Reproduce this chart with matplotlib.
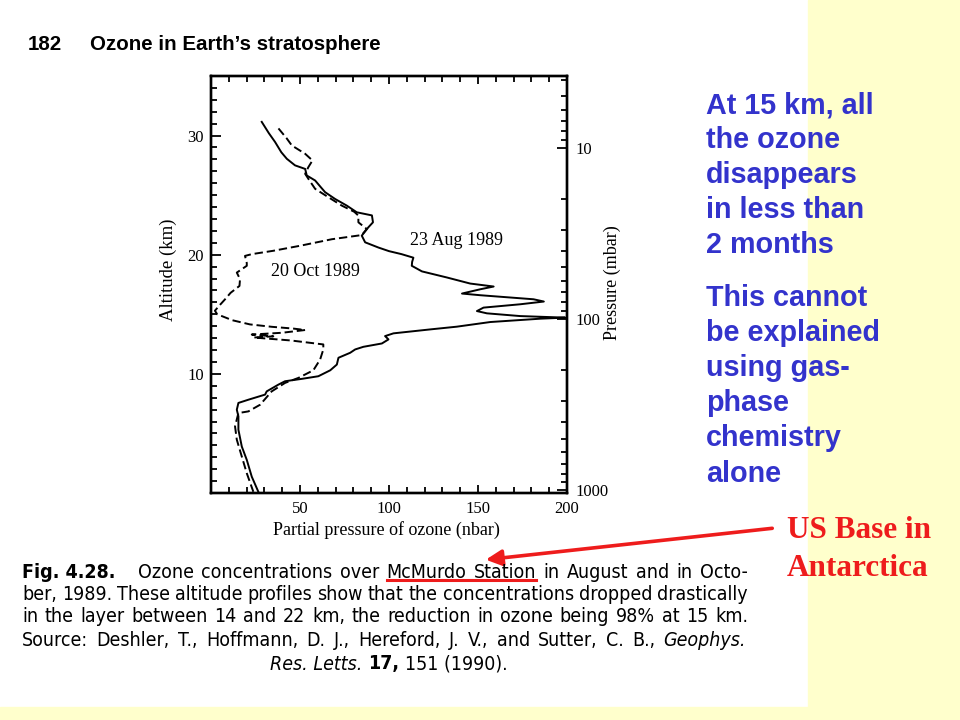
import matplotlib
matplotlib.use('Agg')
import matplotlib.pyplot as plt
import matplotlib.ticker as mticker
from matplotlib.patches import Rectangle, FancyArrowPatch
from matplotlib.lines import Line2D

# ozone profiles (altitude km, partial pressure nbar)
aug_alt = [31.15, 30.2, 29.46, 28.6, 28.05, 27.5, 27.2, 26.65, 26.23, 25.7, 25.25, 24.68,
           24.12, 23.56, 23.3, 22.72, 22.3, 21.6, 21.04, 20.6, 20.3, 20.05, 19.75, 19.4,
           19.07, 18.6, 18.09, 17.58, 17.33, 17.1, 16.74, 16.6, 16.26, 16.07, 15.84, 15.56,
           15.27, 15.08, 14.85, 14.72, 14.63, 14.35, 13.96, 13.73, 13.4, 13.17, 12.89, 12.55,
           12.27, 12.05, 11.77, 11.35, 10.78, 10.3, 9.8, 9.58, 9.38, 9.1, 8.53, 8.26,
           7.83, 7.56, 6.99, 6.43, 5.31, 3.9, 2.78, 1.37, 0.1]
aug_o3 = [28.5, 32.5, 36.0, 39.5, 42.6, 47.2, 52.9, 53.8, 58.5, 61.5, 64.1, 69.7,
          76.3, 81.9, 90.4, 91.0, 88.4, 84.7, 86.6, 94.1, 100.0, 107.0, 113.7, 113.0,
          112.8, 118.5, 132.5, 145.6, 158.8, 151.3, 141.0, 151.3, 181.2, 187.0, 173.7, 153.1,
          149.4, 155.0, 173.7, 199.0, 185.0, 156.9, 138.1, 123.1, 102.5, 97.8, 99.7, 96.0,
          85.6, 81.0, 78.2, 71.6, 70.7, 67.0, 60.3, 51.0, 41.6, 37.9, 31.3, 30.4,
          21.0, 15.4, 14.5, 15.4, 15.4, 17.3, 20.1, 22.9, 26.6]

oct_alt = [30.6, 29.75, 29.17, 28.47, 27.91, 27.35, 26.79, 26.3, 25.53, 24.82, 24.12, 23.6,
           23.28, 22.72, 22.16, 21.65, 21.3, 20.75, 20.33, 20.05, 19.9, 19.3, 19.07, 18.5,
           17.95, 17.38, 16.8, 16.26, 15.7, 15.3, 15.0, 14.5, 14.15, 13.95, 13.8, 13.68,
           13.45, 13.3, 13.15, 13.05, 12.8, 12.47, 12.05, 11.2, 10.3, 9.66, 9.24, 8.53,
           7.41, 6.85, 6.71, 5.59, 4.47, 3.06, 1.66, 0.1]
oct_o3 = [37.9, 42.6, 45.4, 52.9, 57.0, 54.7, 52.9, 55.0, 58.5, 66.0, 73.5, 80.5,
          82.8, 82.8, 87.5, 84.7, 67.9, 50.0, 35.0, 23.0, 19.1, 20.1, 20.1, 14.5,
          16.3, 16.0, 11.0, 7.9, 4.5, 2.2, 3.5, 12.0, 21.9, 34.1, 46.3, 52.9,
          40.0, 22.9, 35.0, 24.0, 45.0, 63.1, 63.1, 61.3, 57.5, 49.1, 41.6, 34.1,
          27.6, 21.0, 15.4, 13.5, 14.5, 17.3, 20.1, 23.8]

x_ticks = [50, 100, 150, 200]
alt_ticks = [10, 20, 30]
p_ticks = [10, 100, 1000]

W, H = 960, 720
def fx(px):
    return px / W
def fy(py):
    return 1 - py / H

serif = ['Liberation Serif', 'DejaVu Serif']
sans = ['Liberation Sans', 'DejaVu Sans']
red = '#EE1C1C'
blue = '#3333CC'

fig = plt.figure(figsize=(9.6, 7.2), dpi=100)
fig.patch.set_facecolor('white')

# yellow slide background around the scanned page
fig.add_artist(Rectangle((fx(808), 0), 1 - fx(808), 1, transform=fig.transFigure,
                         color='#FFFFCC', zorder=0))
fig.add_artist(Rectangle((0, 0), 1, 13 / H, transform=fig.transFigure,
                         color='#FFFFCC', zorder=0))

# the plot ###########################################################
ax = fig.add_axes([fx(211), fy(493), fx(567) - fx(211), fy(76) - fy(493)])
ax.set_facecolor('none')
ax.plot(aug_o3, aug_alt, color='black', lw=1.4)
ax.plot(oct_o3, oct_alt, color='black', lw=1.4, dashes=(4.3, 2.0))
ax.set_xlim(0, 200)
ax.set_ylim(0, 35)

ax.xaxis.set_major_locator(mticker.FixedLocator(x_ticks))
ax.xaxis.set_minor_locator(mticker.MultipleLocator(10))
ax.yaxis.set_major_locator(mticker.FixedLocator(alt_ticks))
ax.yaxis.set_minor_locator(mticker.MultipleLocator(1))
ax.tick_params(which='both', direction='in', top=True, right=False, width=1.3,
               labelsize=12, labelfontfamily=serif)
ax.tick_params(axis='x', which='major', length=6, pad=6)
ax.tick_params(axis='x', which='minor', length=4)
ax.tick_params(axis='y', which='major', length=7, pad=5)
ax.tick_params(axis='y', which='minor', length=4)
for s in ax.spines.values():
    s.set_linewidth(1.7)

ax2 = ax.twinx()
ax2.set_yscale('log')
ax2.set_ylim(1040, 3.8)
ax2.yaxis.set_major_locator(mticker.FixedLocator(p_ticks))
ax2.yaxis.set_major_formatter(mticker.FuncFormatter(lambda v, _: '%g' % v))
ax2.yaxis.set_minor_locator(mticker.LogLocator(subs=range(2, 10)))
ax2.yaxis.set_minor_formatter(mticker.NullFormatter())
ax2.tick_params(which='both', direction='in', width=1.3, labelsize=12, labelfontfamily=serif)
ax2.tick_params(which='major', length=7, pad=6)
ax2.tick_params(which='minor', length=4)
for s in ax2.spines.values():
    s.set_linewidth(1.7)

ax.text(138, 21.2, '23 Aug 1989', ha='center', va='center', fontsize=13, family=serif)
ax.text(58.5, 18.6, '20 Oct 1989', ha='center', va='center', fontsize=13, family=serif)

fig.text(fx(168), fy(270), 'Altitude (km)', rotation=90, ha='center', va='center',
         fontsize=13.5, family=serif)
fig.text(fx(612), fy(283), 'Pressure (mbar)', rotation=90, ha='center', va='center',
         fontsize=13, family=serif)
fig.text(fx(386), fy(530), 'Partial pressure of ozone (nbar)', ha='center', va='center',
         fontsize=13, family=serif)

# page header
fig.text(fx(28), fy(45), '182', fontsize=14.8, fontweight='bold', family=sans, va='center')
fig.text(fx(90), fy(45), 'Ozone in Earth\u2019s stratosphere', fontsize=14.8,
         fontweight='bold', family=sans, va='center')

# caption, justified like the book page ##############################
cap_font = dict(family=['DejaVu Sans'], fontstretch='condensed')
renderer = fig.canvas.get_renderer()

def plain(s):
    return [(w, 'normal', 'normal') for w in s.split()]

cap_lines = [
    (plain('Ozone concentrations over McMurdo Station in August and in Octo-'), 138, 748, 572),
    (plain('ber, 1989. These altitude profiles show that the concentrations dropped drastically'),
     22, 748, 594),
    (plain('in the layer between 14 and 22 km, the reduction in ozone being 98% at 15 km.'),
     22, 748, 617),
    (plain('Source: Deshler, T., Hoffmann, D. J., Hereford, J. V., and Sutter, C. B.,')
     + [('Geophys.', 'normal', 'italic')], 22, 746, 640),
]

def word_texts(tokens, py, size):
    texts, widths = [], []
    for word, wt, st in tokens:
        t = fig.text(0, fy(py), word, fontsize=size, fontweight=wt, fontstyle=st,
                     ha='left', va='center', **cap_font)
        texts.append(t)
        widths.append(t.get_window_extent(renderer).width)
    return texts, widths

# find a font size that fits every line with at least a small word gap
cap_size = 14.0
for tokens, x0, x1, py in cap_lines:
    texts, widths = word_texts(tokens, py, cap_size)
    for t in texts:
        t.remove()
    need = sum(widths) + 4.0 * (len(widths) - 1)
    if need > x1 - x0:
        cap_size = min(cap_size, 14.0 * (x1 - x0 - 4.0 * (len(widths) - 1)) / sum(widths))

placed = []
for tokens, x0, x1, py in cap_lines:
    texts, widths = word_texts(tokens, py, cap_size)
    gap = (x1 - x0 - sum(widths)) / (len(texts) - 1)
    x = x0
    for t, wd in zip(texts, widths):
        t.set_x(fx(x))
        x += wd + gap
    placed.append(texts)

fig.text(fx(22), fy(572), 'Fig. 4.28.', fontsize=cap_size, fontweight='bold',
         va='center', **cap_font)

last = [('Res. Letts.', 'normal', 'italic'), ('17,', 'bold', 'normal'),
        ('151 (1990).', 'normal', 'normal')]
parts, widths = word_texts(last, 664, cap_size)
x = 389 - (sum(widths) + 6 * (len(parts) - 1)) / 2
for t, wd in zip(parts, widths):
    t.set_x(fx(x))
    x += wd + 6

# red underline below "McMurdo Station"
line1 = placed[0]
words = [t.get_text() for t in line1]
bb0 = line1[words.index('McMurdo')].get_window_extent(renderer)
bb1 = line1[words.index('Station')].get_window_extent(renderer)
fig.add_artist(Line2D([bb0.x0 / W, bb1.x1 / W], [fy(580), fy(580)], color=red, lw=2.2,
                      transform=fig.transFigure))

# slide annotations ##################################################
para1 = ['At 15 km, all', 'the ozone', 'disappears', 'in less than', '2 months']
para2 = ['This cannot', 'be explained', 'using gas-', 'phase', 'chemistry', 'alone']
for i, s in enumerate(para1):
    fig.text(fx(706), fy(105 + 35 * i), s, fontsize=20.7, fontweight='bold', color=blue,
             family=sans, va='center')
for i, s in enumerate(para2):
    fig.text(fx(706), fy(298 + 35.1 * i), s, fontsize=20.7, fontweight='bold', color=blue,
             family=sans, va='center')

fig.text(fx(787), fy(530), 'US Base in', fontsize=22.5, fontweight='bold', color=red,
         family=serif, va='center')
fig.text(fx(787), fy(568), 'Antarctica', fontsize=22.5, fontweight='bold', color=red,
         family=serif, va='center')

fig.add_artist(FancyArrowPatch((fx(775), fy(528)), (fx(483), fy(560)),
                               transform=fig.transFigure, arrowstyle='-|>',
                               mutation_scale=24, lw=2.6, color=red))

plt.savefig('out.png', dpi=100)
